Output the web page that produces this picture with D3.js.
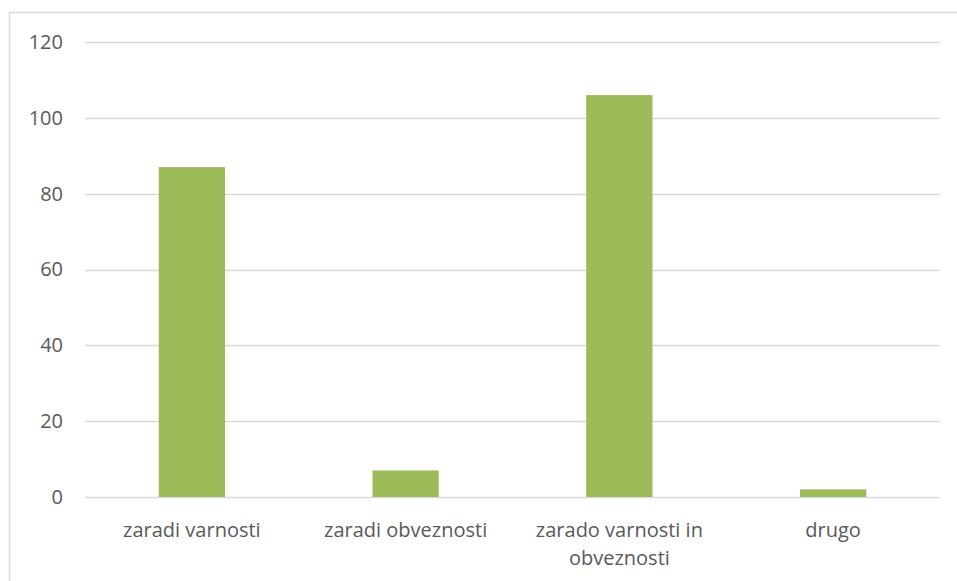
<!DOCTYPE html>
<html>
<head>
<meta charset="utf-8">
<script src="https://cdn.jsdelivr.net/npm/d3@7"></script>
<style>
  body { margin: 0; background: #fff; }
  text { font-family: "Open Sans", "Noto Sans", sans-serif; fill: #595959; }
</style>
</head>
<body>
<div id="chart"></div>
<script>
const categories = ['zaradi varnosti', 'zaradi obveznosti', 'zarado varnosti in obveznosti', 'drugo'];
const values = [87, 7, 106, 2];
const yTicks = [0, 20, 40, 60, 80, 100, 120];

const W = 957, H = 581;
const margin = {left: 85, right: 17, top: 42, bottom: 84};

const svg = d3.select('#chart').append('svg')
    .attr('width', W)
    .attr('height', H);

// chart frame
svg.append('rect')
    .attr('x', 9.5).attr('y', 12.5)
    .attr('width', W + 20).attr('height', H + 20)
    .attr('fill', 'none')
    .attr('stroke', '#d9d9d9')
    .attr('stroke-width', 1.5);

const x = d3.scaleBand()
    .domain(categories)
    .range([margin.left, W - margin.right])
    .paddingInner(0.69)
    .paddingOuter(0.345);

const y = d3.scaleLinear()
    .domain([0, 120])
    .range([H - margin.bottom, margin.top]);

// gridlines
svg.append('g')
    .selectAll('line')
    .data(yTicks)
    .join('line')
    .attr('x1', margin.left)
    .attr('x2', W - margin.right)
    .attr('y1', d => Math.round(y(d)) + 0.5)
    .attr('y2', d => Math.round(y(d)) + 0.5)
    .attr('stroke', '#d9d9d9')
    .attr('stroke-width', 1.5);

// y labels
const yAxis = svg.append('g')
    .attr('transform', `translate(${margin.left - 22},0)`)
    .call(d3.axisLeft(y).tickValues(yTicks).tickSize(0).tickPadding(0));
yAxis.select('.domain').remove();
yAxis.selectAll('text')
    .attr('font-size', 20)
    .attr('fill', '#595959')
    .attr('font-family', '"Open Sans", sans-serif');

// bars
svg.append('g')
    .selectAll('rect')
    .data(values)
    .join('rect')
    .attr('x', (d, i) => x(categories[i]))
    .attr('width', x.bandwidth())
    .attr('y', d => y(d))
    .attr('height', d => y(0) - y(d))
    .attr('fill', '#9bbb59');

// category labels, wrapped to band width
const step = x.step();
const labels = svg.append('g')
    .selectAll('text')
    .data(categories)
    .join('text')
    .attr('x', d => x(d) + x.bandwidth() / 2)
    .attr('y', y(0) + 40)
    .attr('text-anchor', 'middle')
    .attr('font-size', 20);

labels.each(function(d) {
    const t = d3.select(this);
    const words = d.split(' ');
    let line = [];
    let tspan = t.append('tspan').attr('x', t.attr('x')).attr('dy', 0);
    words.forEach(w => {
        line.push(w);
        tspan.text(line.join(' '));
        if (tspan.node().getComputedTextLength() > step - 10 && line.length > 1) {
            line.pop();
            tspan.text(line.join(' '));
            line = [w];
            tspan = t.append('tspan').attr('x', t.attr('x')).attr('dy', 28).text(w);
        }
    });
});
</script>
</body>
</html>
